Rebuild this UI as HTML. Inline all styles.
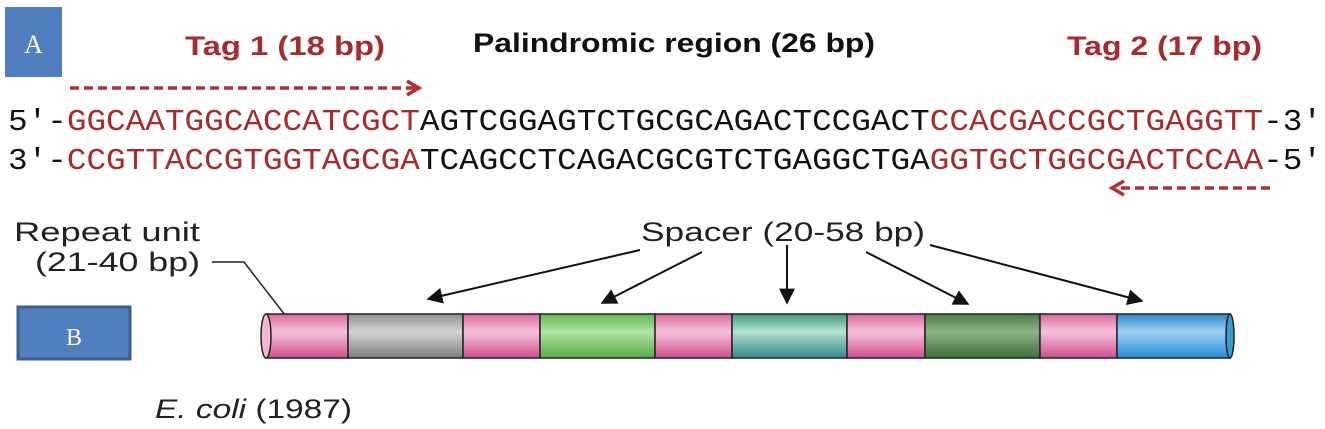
<!DOCTYPE html>
<html><head><meta charset="utf-8"><style>
html,body{margin:0;padding:0;background:#fff;width:1325px;height:429px;overflow:hidden}
svg{display:block}
.mono{font-family:"Liberation Mono","Courier New",monospace;font-size:31px}
.sans{font-family:"Liberation Sans",Arial,sans-serif}
</style></head><body>
<svg width="1325" height="429" viewBox="0 0 1325 429" xmlns="http://www.w3.org/2000/svg">
<defs>
<linearGradient id="pk" x1="0" y1="0" x2="0" y2="1"><stop offset="0" stop-color="#d9669e"/><stop offset="0.4" stop-color="#f6c2dc"/><stop offset="1" stop-color="#cf4f8e"/></linearGradient>
<linearGradient id="gy" x1="0" y1="0" x2="0" y2="1"><stop offset="0" stop-color="#8f8f8f"/><stop offset="0.4" stop-color="#d4d4d4"/><stop offset="1" stop-color="#7d7d7d"/></linearGradient>
<linearGradient id="gr" x1="0" y1="0" x2="0" y2="1"><stop offset="0" stop-color="#5fb84f"/><stop offset="0.4" stop-color="#b2e3a5"/><stop offset="1" stop-color="#56ad47"/></linearGradient>
<linearGradient id="tl" x1="0" y1="0" x2="0" y2="1"><stop offset="0" stop-color="#3f9a7a"/><stop offset="0.4" stop-color="#b6e0d2"/><stop offset="1" stop-color="#2f8a86"/></linearGradient>
<linearGradient id="dg" x1="0" y1="0" x2="0" y2="1"><stop offset="0" stop-color="#4b7a45"/><stop offset="0.4" stop-color="#8fb386"/><stop offset="1" stop-color="#3f6e3a"/></linearGradient>
<linearGradient id="bl" x1="0" y1="0" x2="0" y2="1"><stop offset="0" stop-color="#2e86cf"/><stop offset="0.4" stop-color="#9fd0f2"/><stop offset="1" stop-color="#1f8fd6"/></linearGradient>
<marker id="big" viewBox="0 0 10 10" markerWidth="22" markerHeight="16" refX="9" refY="5" orient="auto" markerUnits="userSpaceOnUse"><path d="M0,0 L10,5 L0,10 z" fill="#111"/></marker>
</defs>

<rect x="5" y="7" width="57" height="70" fill="#4f7fbe"/>
<text x="33.5" y="53" text-anchor="middle" style="font-family:'Liberation Serif',serif" font-size="26" fill="#fff">A</text>

<g class="sans" font-weight="bold" font-size="27">
<text x="185" y="55" textLength="200" lengthAdjust="spacingAndGlyphs" fill="#a82a2a">Tag 1 (18 bp)</text>
<text x="473" y="52" textLength="402" lengthAdjust="spacingAndGlyphs" fill="#111">Palindromic region (26 bp)</text>
<text x="1067" y="55" textLength="195" lengthAdjust="spacingAndGlyphs" fill="#a82a2a">Tag 2 (17 bp)</text>
</g>

<line x1="70" y1="88" x2="415" y2="88" stroke="#b03030" stroke-width="3.5" stroke-dasharray="9,5"/>
<path d="M407,81 L419,88 L407,95" fill="none" stroke="#b03030" stroke-width="3.5"/>
<line x1="1270" y1="188" x2="1116" y2="188" stroke="#b03030" stroke-width="3.5" stroke-dasharray="9,5"/>
<path d="M1124,181 L1112,188 L1124,195" fill="none" stroke="#b03030" stroke-width="3.5"/>

<g class="mono">
<text x="8" y="130" textLength="1314" lengthAdjust="spacingAndGlyphs"><tspan fill="#111">5′-</tspan><tspan fill="#a82a2a">GGCAATGGCACCATCGCT</tspan><tspan fill="#111">AGTCGGAGTCTGCGCAGACTCCGACT</tspan><tspan fill="#a82a2a">CCACGACCGCTGAGGTT</tspan><tspan fill="#111">-3′</tspan></text>
<text x="8" y="169" textLength="1314" lengthAdjust="spacingAndGlyphs"><tspan fill="#111">3′-</tspan><tspan fill="#a82a2a">CCGTTACCGTGGTAGCGA</tspan><tspan fill="#111">TCAGCCTCAGACGCGTCTGAGGCTGA</tspan><tspan fill="#a82a2a">GGTGCTGGCGACTCCAA</tspan><tspan fill="#111">-5′</tspan></text>
</g>

<g class="sans" font-size="27" fill="#222">
<text x="14" y="241" textLength="186" lengthAdjust="spacingAndGlyphs">Repeat unit</text>
<text x="35" y="271" textLength="165" lengthAdjust="spacingAndGlyphs">(21-40 bp)</text>
<text x="641" y="241" textLength="284" lengthAdjust="spacingAndGlyphs">Spacer (20-58 bp)</text>
<text x="155" y="418" textLength="197" lengthAdjust="spacingAndGlyphs"><tspan font-style="italic">E. coli</tspan> (1987)</text>
</g>
<path d="M212,262 L244,262 L302,337" fill="none" stroke="#222" stroke-width="1.5"/>

<g stroke="#111" stroke-width="2">
<line x1="640" y1="250" x2="428" y2="299" marker-end="url(#big)"/>
<line x1="702" y1="252" x2="602" y2="303" marker-end="url(#big)"/>
<line x1="787" y1="245" x2="787" y2="303" marker-end="url(#big)"/>
<line x1="866" y1="252" x2="968" y2="304" marker-end="url(#big)"/>
<line x1="930" y1="245" x2="1142" y2="301" marker-end="url(#big)"/>
</g>

<rect x="18" y="307" width="112" height="52" fill="#4f7fbe" stroke="#3a5f8f" stroke-width="3"/>
<text x="74" y="345" text-anchor="middle" style="font-family:'Liberation Serif',serif" font-size="24" fill="#fff">B</text>

<g stroke="#222" stroke-width="1.5">
<rect x="266" y="314" width="82" height="44" fill="url(#pk)"/>
<rect x="348" y="314" width="115" height="44" fill="url(#gy)"/>
<rect x="463" y="314" width="77" height="44" fill="url(#pk)"/>
<rect x="540" y="314" width="115" height="44" fill="url(#gr)"/>
<rect x="655" y="314" width="77" height="44" fill="url(#pk)"/>
<rect x="732" y="314" width="115" height="44" fill="url(#tl)"/>
<rect x="847" y="314" width="78" height="44" fill="url(#pk)"/>
<rect x="925" y="314" width="115" height="44" fill="url(#dg)"/>
<rect x="1040" y="314" width="77" height="44" fill="url(#pk)"/>
<rect x="1117" y="314" width="113" height="44" fill="url(#bl)"/>
<ellipse cx="1230" cy="336" rx="4" ry="22" fill="#3a9ad8"/>
<ellipse cx="266" cy="336" rx="5" ry="22" fill="#f3b8d6"/>
</g>
</svg>
</body></html>
